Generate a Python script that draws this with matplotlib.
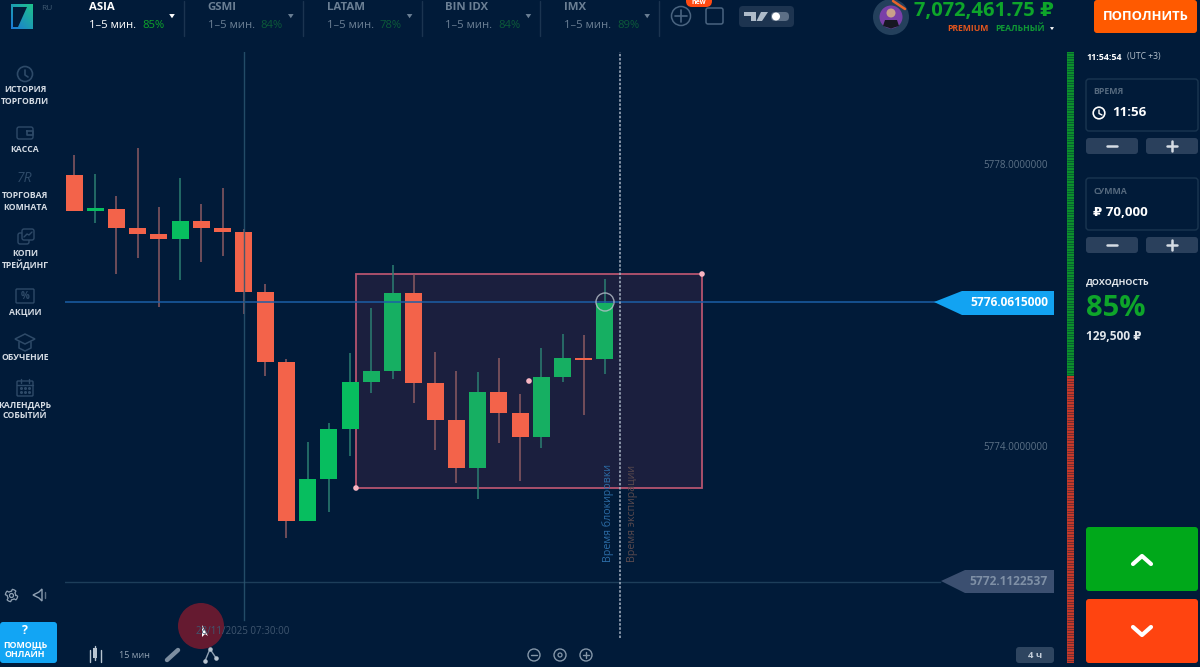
import matplotlib
matplotlib.use('Agg')
import matplotlib.pyplot as plt
from matplotlib.patches import FancyBboxPatch, Rectangle, Circle, Polygon
import numpy as np

plt.rcParams['font.family'] = ['Open Sans', 'DejaVu Sans']

# ===== Data =====
opens = [5777.86, 5777.35, 5777.38, 5777.11, 5777.02, 5776.95, 5777.21, 5777.11, 5777.05, 5776.20,
         5775.21, 5772.97, 5773.56, 5774.27, 5774.93, 5775.09, 5776.19, 5774.92, 5774.40, 5773.72,
         5774.79, 5774.49, 5774.16, 5775.01, 5775.27, 5775.26]
closes = [5777.35, 5777.39, 5777.11, 5777.02, 5776.95, 5777.21, 5777.11, 5777.05, 5776.20, 5775.21,
          5772.97, 5773.56, 5774.27, 5774.93, 5775.09, 5776.19, 5774.92, 5774.40, 5773.72, 5774.79,
          5774.49, 5774.16, 5775.01, 5775.27, 5775.24, 5776.05]
highs = [5778.14, 5777.87, 5777.56, 5778.24, 5777.41, 5777.81, 5777.45, 5777.67, 5777.10, 5776.32,
         5775.26, 5774.09, 5774.35, 5775.34, 5775.98, 5776.59, 5776.46, 5775.35, 5775.09, 5775.07,
         5775.27, 5774.76, 5775.41, 5775.61, 5775.60, 5776.39]
lows = [5777.35, 5777.18, 5776.46, 5776.69, 5775.99, 5776.38, 5776.63, 5776.72, 5775.89, 5775.02,
        5772.73, 5772.97, 5773.10, 5773.89, 5774.78, 5774.98, 5774.64, 5773.97, 5773.51, 5773.28,
        5774.07, 5773.53, 5774.00, 5774.94, 5774.46, 5775.05]
price_ticks = [5778.0, 5774.0]
current_price = 5776.0615
start_price = 5772.1122537
box_prices = [5773.435, 5776.46]
box_candles = [13.28, 29.57]
cross_candle = 8.0
expiry_candle = 25.72

tabs = ['ASIA', 'GSMI', 'LATAM', 'BIN IDX', 'IMX']
tab_pcts = ['85%', '84%', '78%', '84%', '89%']
nav = [('ИСТОРИЯ', 90), ('ТОРГОВЛИ', 102), ('КАССА', 149), ('ТОРГОВАЯ', 195), ('КОМНАТА', 207),
       ('КОПИ', 253), ('ТРЕЙДИНГ', 265), ('АКЦИИ', 312), ('ОБУЧЕНИЕ', 358), ('КАЛЕНДАРЬ', 405), ('СОБЫТИЙ', 416)]

bg = '#011B39'
red = '#F3634A'
green = '#07BE5F'
green_box = '#16AF62'
red_w = '#8C5A62'
green_w = '#2B7F72'
pink = '#B5546F'
icon = '#2E4A68'
panel = '#2A405C'
grey = '#6B7F94'
pos_green = '#0EA52A'

fig = plt.figure(figsize=(12, 6.67), dpi=100, facecolor=bg)

# ===== Chart, price/candle scale =====
ax = fig.add_axes([65/1200, 1-645/667, (1054-65)/1200, (645-52)/667], facecolor=bg)
ax.set_xlim(-0.424, 46.14)
ax.set_ylim(5771.216, 5779.597)
ax.axis('off')

ax.add_patch(Rectangle((box_candles[0], box_prices[0]), box_candles[1]-box_candles[0], box_prices[1]-box_prices[0],
                       fc='#1B1F3E', ec=pink, lw=1.3, zorder=1))

idx = np.arange(len(opens))
up = np.array(closes) >= np.array(opens)
ax.vlines(idx, lows, highs, colors=[green_w if u else red_w for u in up], lw=1.1, zorder=2)
ax.bar(idx, np.abs(np.array(closes)-np.array(opens)), bottom=np.minimum(opens, closes), width=0.8,
       color=[(green_box if i > box_candles[0] else green) if up[i] else red for i in idx], zorder=3)

ax.axhline(current_price, xmax=0.882, color='#1B5FA8', lw=1.2, alpha=0.9, zorder=4)
ax.axhline(start_price, xmax=0.885, color='#1D3E5A', lw=1, zorder=1.5)
ax.axvline(cross_candle, ymin=0.042, color='#2A5570', lw=1, alpha=0.85, zorder=4)
ax.axvline(expiry_candle, ymin=0.012, color='#A9B4C4', lw=1.1, ls=(0, (1.6, 1.1)), zorder=4)

# ===== UI overlay in pixels =====
ui = fig.add_axes([0, 0, 1, 1], facecolor='none')
ui.set_xlim(0, 1200)
ui.set_ylim(667, 0)
ui.axis('off')


def txt(x, y, s, fs=8, c='white', b=False, ha='left', **kw):
    ui.text(x, y, s, fontsize=fs, color=c, fontweight='bold' if b else 'normal', ha=ha, va='center', **kw)


def rbox(x0, y0, x1, y1, fc, ec='none', r=3, lw=1):
    ui.add_patch(FancyBboxPatch((x0+r, y0+r), x1-x0-2*r, y1-y0-2*r, boxstyle='round,pad=%d' % r,
                                fc=fc, ec=ec, lw=lw))


def ln(xs, ys, c=icon, lw=1.2):
    ui.plot(xs, ys, color=c, lw=lw, solid_capstyle='round', solid_joinstyle='round')


def ring(x, y, r, ec=icon, fc='none', lw=1.2, **kw):
    ui.add_patch(Circle((x, y), r, fc=fc, ec=ec, lw=lw, **kw))


def caret(x, y, c='white', s=2.8):
    ui.add_patch(Polygon([(x-s, y-s*0.7), (x+s, y-s*0.7), (x, y+s*0.8)], fc=c, ec='none'))


# chart annotations
for p in [(356, 488), (702, 274), (529, 381)]:
    ring(p[0], p[1], 2.8, ec='none', fc='#F7B5C2')
ring(605, 302, 9, ec='#B9C2CC', lw=1, alpha=0.8)
txt(608, 513, 'Время блокировки', 7.7, '#2C6CA6', rotation=90, ha='center')
txt(632, 513, 'Время экспирации', 7.7, '#5A4A4E', rotation=90, ha='center')

for p in price_ticks:
    y = 165 + (5778.0 - p) * 70.75
    txt(1048, y, '%.7f' % p, 7.1, '#5C7186', ha='right')

ui.add_patch(Polygon([(934, 302), (962, 291), (1054, 291), (1054, 315), (962, 315)], fc='#12A3F2', ec='none'))
txt(1048, 302.5, '%.7f' % current_price, 8.6, 'white', True, ha='right')
ui.add_patch(Polygon([(941, 581), (965, 570), (1054, 570), (1054, 593), (965, 593)], fc='#46597A', ec='none', alpha=0.85))
txt(1048, 581.5, '%.7f' % start_price, 8.6, '#7F90A6', True, ha='right')

# date label + click marker
txt(196, 631, '28/11/2025 07:30:00', 7, '#40566F')
ring(201, 626, 23, ec='none', fc='#6E1A30', alpha=0.92)
ui.add_patch(Polygon([(202, 625), (202, 637), (205, 634), (208, 636)], fc='white', ec='none'))

# ===== Top bar =====
grad = np.linspace(0, 1, 64).reshape(-1, 1) * np.ones((64, 64))
grad = (grad + np.linspace(1, 0, 64)) / 2
ui.imshow(grad, extent=(11, 33, 29, 4), cmap=matplotlib.colors.LinearSegmentedColormap.from_list('lg', ['#1EC28B', '#1B78D8']),
          aspect='auto', zorder=1)
ui.add_patch(Polygon([(13, 7), (27, 7), (18, 27), (13, 27)], fc=bg, ec='none', zorder=2))
ui.set_xlim(0, 1200)
ui.set_ylim(667, 0)
txt(41, 8, 'RU', 6, '#3F5870')

for i, name in enumerate(tabs):
    x = 89 + i * 118.8
    act = i == 0
    txt(x, 7.5, name, 8.2, 'white' if act else grey, True)
    txt(x, 25, '1–5 мин.', 8.1, 'white' if act else grey)
    txt(x + 53, 25, tab_pcts[i], 8.1, pos_green if act else '#0C5A3A')
    caret(x + 83, 16, 'white' if act else grey)
    ln([x + 95, x + 95], [1, 36], '#1B3450', 1)

ring(681, 16, 9.5, ec='#4A6480', lw=1.1)
ln([675, 687], [16, 16], '#4A6480', 1.2)
ln([681, 681], [10, 22], '#4A6480', 1.2)
rbox(706, 8, 723, 24, 'none', ec='#4A6480', r=2, lw=1.1)
rbox(739, 6, 794, 27, '#1D3450', r=4)
# tradingview mark
ui.add_patch(Polygon([(744, 12), (756, 12), (756, 21), (751, 21), (751, 16), (744, 16)], fc='#AEBBC9', ec='none'))
ui.add_patch(Polygon([(761, 12), (768, 12), (762, 21), (756.5, 21)], fc='#AEBBC9', ec='none'))
rbox(771, 12, 789, 21, '#5C6F86', r=4)
ring(776, 16.5, 4, ec='none', fc='white')
rbox(686, -10, 712, 7, '#FF4A12', r=6)
txt(699, 2.5, 'new', 5, 'white', True, ha='center')

ring(891, 17, 18, ec='none', fc='#24405C')
ring(891, 17, 11.5, ec='none', fc='#7A3FA8')
ring(891, 13, 4.5, ec='none', fc='#C9A08A')
ui.add_patch(Polygon([(883, 26), (885, 20), (897, 20), (899, 26), (891, 28.5)], fc='#171722', ec='none'))
ln([893, 905], [1, 9], '#E8642A', 1.8)
txt(1054, 11, '7,072,461.75 ₽', 14.5, pos_green, True, ha='right')
txt(947, 28.5, 'PREMIUM', 6.2, '#E2551D', True)
txt(995, 28.5, 'РЕАЛЬНЫЙ', 6.2, '#0F9A35', True)
caret(1052, 28.5, 'white', 2)
rbox(1094, 0, 1197, 33, '#FF5A00', r=3)
txt(1145.5, 16.5, 'ПОПОЛНИТЬ', 9.4, 'white', True, ha='center')

# ===== Left nav =====
for s, y in nav:
    txt(25, y, s, 6.2, '#D5DCE4', True, ha='center')

ring(25, 74, 7.5)
ln([25, 25, 28], [70, 75, 77])
rbox(17, 127, 33, 139, 'none', ec=icon, r=2)
ln([27, 33, 33, 27, 27], [131, 131, 135, 135, 131])
txt(25, 178, '7R', 10, icon, ha='center', style='italic')
rbox(18, 233, 29, 244, bg, ec=icon, r=2)
rbox(22, 229, 34, 240, bg, ec=icon, r=2)
ln([24, 27, 29, 32], [237, 234, 235, 232], icon, 1)
rbox(16, 289, 34, 303, 'none', ec=icon, r=1)
txt(25, 296.5, '%', 7, icon, True, ha='center')
ui.add_patch(Polygon([(15, 339), (25, 334), (35, 339), (25, 344)], fc='none', ec=icon, lw=1.1))
ln([19, 19, 25, 31, 31], [342, 348, 351, 348, 342], icon, 1.1)
rbox(17, 381, 33, 396, 'none', ec=icon, r=1)
ln([17, 33], [385, 385], icon, 1)
ln([21, 21], [379, 383], icon, 1)
ln([29, 29], [379, 383], icon, 1)
ui.scatter([21, 25, 29, 21, 25, 29], [388, 388, 388, 392, 392, 392], s=1.5, color=icon)

# ===== Bottom left =====
ang = np.linspace(0, 2*np.pi, 49)
ui.plot(11.5 + (5.2 + 1.0*np.sign(np.sin(4*ang)))*np.cos(ang), 595.5 + (5.2 + 1.0*np.sign(np.sin(4*ang)))*np.sin(ang),
        color='#8FA0B2', lw=0.9)
ring(11.5, 595.5, 2, ec='#8FA0B2', lw=0.9)
ui.add_patch(Polygon([(33, 595), (39, 592), (42, 589), (42, 601), (39, 598)], fc='none', ec='#8FA0B2', lw=1))
ln([45, 45], [592, 598], '#5F7287', 1)
rbox(0, 622, 57, 663, '#12A5F4', r=3)
txt(24.5, 631, '?', 9, 'white', True, ha='center')
txt(25, 644.5, 'ПОМОЩЬ', 6.4, 'white', True, ha='center')
txt(25, 654.5, 'ОНЛАЙН', 6.4, 'white', True, ha='center')

ln([90, 90], [650, 662], '#B8C4D0', 1)
ui.add_patch(Rectangle((93, 648), 4, 10, fc='#B8C4D0', ec='none'))
ln([95, 95], [646, 660], '#B8C4D0', 1)
ln([101, 101], [650, 662], '#B8C4D0', 1)
txt(134, 655, '15 мин', 6.6, '#93A3B4', ha='center')
ln([167, 178], [660, 650], '#7C8DA0', 3.2)
ln([205, 210, 216], [661, 649, 658], '#8FA0B2', 1)
ui.scatter([205, 210, 216], [661, 649, 658], s=5, color='#B8C4D0', zorder=3)

for x in [534, 560, 586]:
    ring(x, 655, 6, ec='#8496A8', lw=1)
ln([531, 537], [655, 655], '#8496A8', 1)
ln([583, 589], [655, 655], '#8496A8', 1)
ln([586, 586], [652, 658], '#8496A8', 1)
ring(560, 655, 2, ec='#8496A8', lw=0.9)
rbox(1016, 647, 1054, 663, '#2E4560', r=3)
txt(1035, 655, '4 ч', 6.8, '#C3CDD8', True, ha='center')

# ===== Strength strip =====
ui.add_patch(Rectangle((1066.5, 52), 7, 324, fc='#0C8F2C', ec='none'))
ui.add_patch(Rectangle((1066.5, 376), 7, 287, fc='#C4392A', ec='none'))
ui.hlines(np.arange(53, 663, 2.6), 1066.5, 1073.5, colors=bg, lw=0.5, alpha=0.55)

# ===== Right panel =====
txt(1086, 57, '11:54:54', 6.4, 'white', True)
txt(1127, 57, '(UTC +3)', 6.2, '#B4C0CC')

for y0, label in [(79, 'ВРЕМЯ'), (178, 'СУММА')]:
    rbox(1086, y0, 1198, y0+52, 'none', ec='#1A3550', r=3)
    txt(1093, y0+13, label, 6.3, '#55697E', True)
    rbox(1086, y0+59, 1138, y0+75, panel, r=3)
    rbox(1146, y0+59, 1198, y0+75, panel, r=3)
    ln([1107, 1117], [y0+67, y0+67], '#D5DCE4', 1.8)
    ln([1167, 1177], [y0+67, y0+67], '#D5DCE4', 1.8)
    ln([1172, 1172], [y0+62, y0+72], '#D5DCE4', 1.8)

ring(1099, 113, 5.8, ec='white', lw=1.2)
ln([1099, 1099, 1102], [110, 113.5, 115], 'white', 1)
txt(1112, 113, '11:56', 9.6, 'white', True)
txt(1093, 212, '₽ 70,000', 9.6, 'white', True)
txt(1086, 282, 'ДОХОДНОСТЬ', 6.4, '#E1E6EB', True)
txt(1086, 308, '85%', 21, pos_green, True)
txt(1086, 337, '129,500 ₽', 8.6, '#E1E6EB', True)

rbox(1086, 527, 1198, 591, '#00A81A', r=3)
ln([1133, 1142, 1151], [564, 556, 564], 'white', 3)
rbox(1086, 599, 1198, 663, '#FF4410', r=3)
ln([1133, 1142, 1151], [627, 635, 627], 'white', 3)

plt.savefig('out.png', dpi=100, facecolor=bg)
plt.close()
